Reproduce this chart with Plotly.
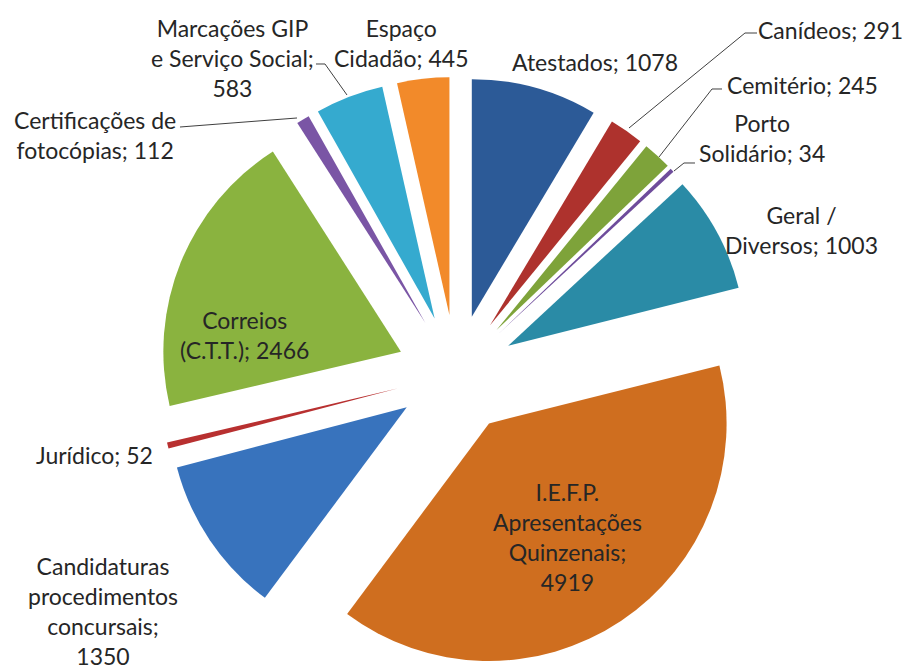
import plotly.graph_objects as go

# ---- data ----
labels = ["Atestados", "Canídeos", "Cemitério", "Porto Solidário", "Geral / Diversos",
          "I.E.F.P. Apresentações Quinzenais", "Candidaturas procedimentos concursais",
          "Jurídico", "Correios (C.T.T.)", "Certificações de fotocópias",
          "Marcações GIP e Serviço Social", "Espaço Cidadão"]
values = [1078, 291, 245, 34, 1003, 4919, 1350, 52, 2466, 112, 583, 445]
colors = ["#2C5A97", "#AE322D", "#7EA33A", "#6E4C9B", "#2A8BA6", "#CF6E1F",
          "#3873BD", "#B83030", "#8AB33F", "#7A55A5", "#35AACF", "#F28A2A"]

# label layout (wrapped text) per slice
label_wrap = ["Atestados; {v}", "Canídeos; {v}", "Cemitério; {v}", "Porto<br>Solidário; {v}",
              "Geral /<br>Diversos; {v}", "I.E.F.P.<br>Apresentações<br>Quinzenais;<br>{v}",
              "Candidaturas<br>procedimentos<br>concursais;<br>{v}", "Jurídico; {v}",
              "Correios<br>(C.T.T.); {v}", "Certificações de<br>fotocópias; {v}",
              "Marcações GIP<br>e Serviço Social;<br>{v}", "Espaço<br>Cidadão; {v}"]
label_pos = [(595, 62), (830, 30), (802, 85), (762, 138), (801, 230), (567, 537),
             (103, 611), (94, 455), (244, 335), (95, 135), (232, 58), (401, 43)]

W, H = 908, 671
ML, MR, MT, MB = 4, 0, 77, 0
PW, PH = W - ML - MR, H - MT - MB


def px(x):
    return (x - ML) / PW


def py(y):
    return 1 - (y - MT) / PH


fig = go.Figure(go.Pie(
    labels=labels, values=values, sort=False, direction="clockwise", rotation=0,
    pull=[0.25] * len(values), textinfo="none", hoverinfo="label+value",
    marker=dict(colors=colors, line=dict(width=0)), showlegend=False,
))

font = dict(family="Lato, 'Open Sans', sans-serif", size=23, color="#262626")
for txt, v, (x, y) in zip(label_wrap, values, label_pos):
    fig.add_annotation(x=px(x), y=py(y), xref="paper", yref="paper", text=txt.format(v=v),
                       showarrow=False, font=font, align="center",
                       xanchor="center", yanchor="middle")

leaders = [
    [(629, 128), (745, 33), (757, 33)],
    [(659, 157), (712, 89), (722, 89)],
    [(674, 171), (684, 163), (695, 163)],
    [(347, 95), (325, 64), (316, 64)],
    [(297, 118), (180, 127)],
]
for pts in leaders:
    path = "M " + " L ".join(f"{px(a):.5f},{py(b):.5f}" for a, b in pts)
    fig.add_shape(type="path", path=path, xref="paper", yref="paper",
                  line=dict(color="#404040", width=1))

fig.update_layout(
    width=W, height=H, margin=dict(l=ML, r=MR, t=MT, b=MB),
    paper_bgcolor="white", plot_bgcolor="white",
)
fig.write_html("out.html", config={"displayModeBar": False},
               post_script="document.body.style.margin='0';document.body.style.overflow='hidden';")
